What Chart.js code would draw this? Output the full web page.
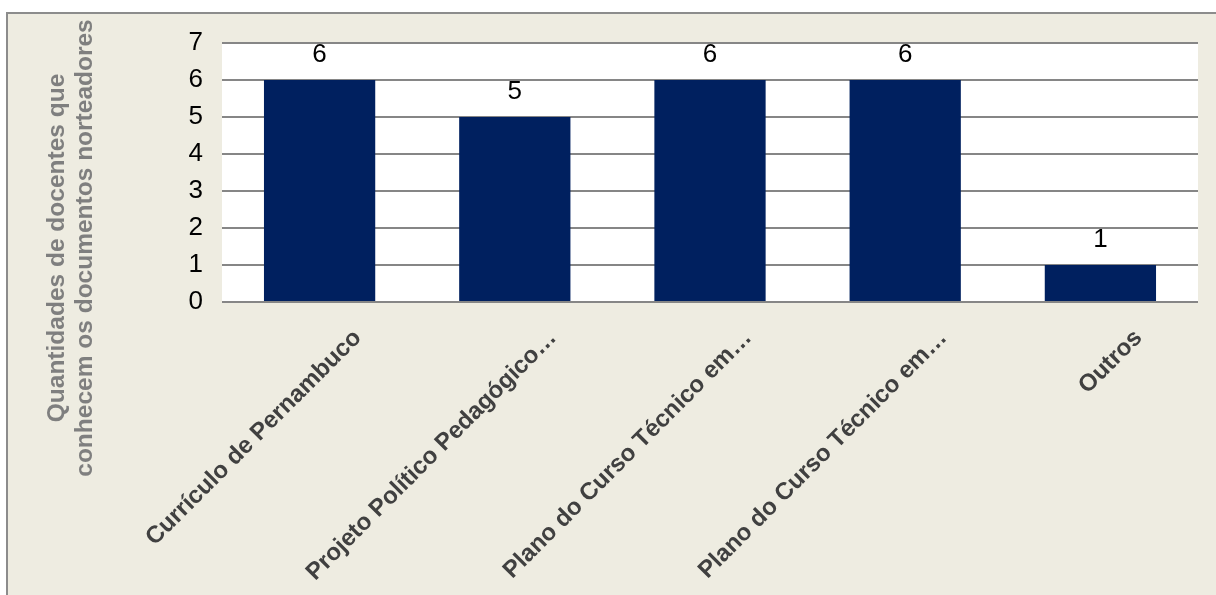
<!DOCTYPE html>
<html>
<head>
<meta charset="utf-8">
<script src="https://cdn.jsdelivr.net/npm/chart.js@4/dist/chart.umd.min.js"></script>
<style>
  html, body { margin: 0; padding: 0; background: #fff; }
  #wrap { width: 1216px; height: 595px; }
</style>
</head>
<body>
<div id="wrap"><canvas id="chart" width="1216" height="595"></canvas></div>
<script>
  // Data
  const categories = [
    'Currículo de Pernambuco',
    'Projeto Político Pedagógico…',
    'Plano do Curso Técnico em…',
    'Plano do Curso Técnico em…',
    'Outros'
  ];
  const docentes = [6, 5, 6, 6, 1];
  const yTicks = [0, 1, 2, 3, 4, 5, 6, 7];
  const yTitle = ['Quantidades de docentes que', 'conhecem os documentos norteadores'];

  // beige panel with a grey frame, white plot area
  const background = {
    id: 'background',
    beforeDraw(chart) {
      const c = chart.ctx, a = chart.chartArea;
      c.save();
      c.fillStyle = '#ffffff';
      c.fillRect(0, 0, chart.width, chart.height);
      c.fillStyle = '#eeece1';
      c.fillRect(7, 13, chart.width - 7, chart.height - 13);
      c.strokeStyle = '#8c8c8c';
      c.lineWidth = 2;
      c.beginPath();
      c.moveTo(7, chart.height);
      c.lineTo(7, 13);
      c.lineTo(chart.width, 13);
      c.stroke();
      c.fillStyle = '#ffffff';
      c.fillRect(a.left, a.top, a.right - a.left, a.bottom - a.top);
      c.restore();
    }
  };

  // value above every bar
  const barLabels = {
    id: 'barLabels',
    afterDatasetsDraw(chart) {
      const c = chart.ctx;
      c.save();
      c.font = '26px "Liberation Sans", Arial, sans-serif';
      c.fillStyle = '#000';
      c.textAlign = 'center';
      c.textBaseline = 'middle';
      chart.getDatasetMeta(0).data.forEach((bar, i) => {
        c.fillText(docentes[i], bar.x, bar.y - 25);
      });
      c.restore();
    }
  };

  // two-line rotated axis title
  const axisTitle = {
    id: 'axisTitle',
    afterDraw(chart) {
      const c = chart.ctx;
      c.save();
      c.font = 'bold 24.5px "Liberation Sans", Arial, sans-serif';
      c.fillStyle = '#7f7f7f';
      c.textAlign = 'center';
      c.textBaseline = 'middle';
      const xs = [57, 85];
      yTitle.forEach((t, i) => {
        c.save();
        c.translate(xs[i], 248);
        c.rotate(-Math.PI / 2);
        c.fillText(t, 0, 0);
        c.restore();
      });
      c.restore();
    }
  };

  new Chart(document.getElementById('chart'), {
    type: 'bar',
    data: {
      labels: categories,
      datasets: [{
        data: docentes,
        backgroundColor: '#00205f',
        categoryPercentage: 1,
        barPercentage: 0.57
      }]
    },
    options: {
      responsive: false,
      animation: false,
      events: [],
      layout: { padding: { top: 43, right: 18, left: 0, bottom: 0 } },
      plugins: { legend: { display: false }, tooltip: { enabled: false } },
      scales: {
        x: {
          afterFit(scale) { scale.height = 293; },
          grid: { display: false },
          border: { display: false },
          ticks: {
            autoSkip: false,
            minRotation: 45,
            maxRotation: 45,
            padding: 14,
            labelOffset: 38,
            color: '#404040',
            font: { family: '"Liberation Sans", Arial, sans-serif', size: 24, weight: 'bold' }
          }
        },
        y: {
          min: 0,
          max: yTicks[yTicks.length - 1],
          afterFit(scale) { scale.width = 222; },
          afterBuildTicks(scale) { scale.ticks = yTicks.map(v => ({ value: v })); },
          grid: { color: '#868686', lineWidth: 2, drawTicks: false },
          border: { display: false },
          ticks: {
            padding: 19,
            color: '#000',
            font: { family: '"Liberation Sans", Arial, sans-serif', size: 26 }
          }
        }
      }
    },
    plugins: [background, barLabels, axisTitle]
  });
</script>
</body>
</html>
